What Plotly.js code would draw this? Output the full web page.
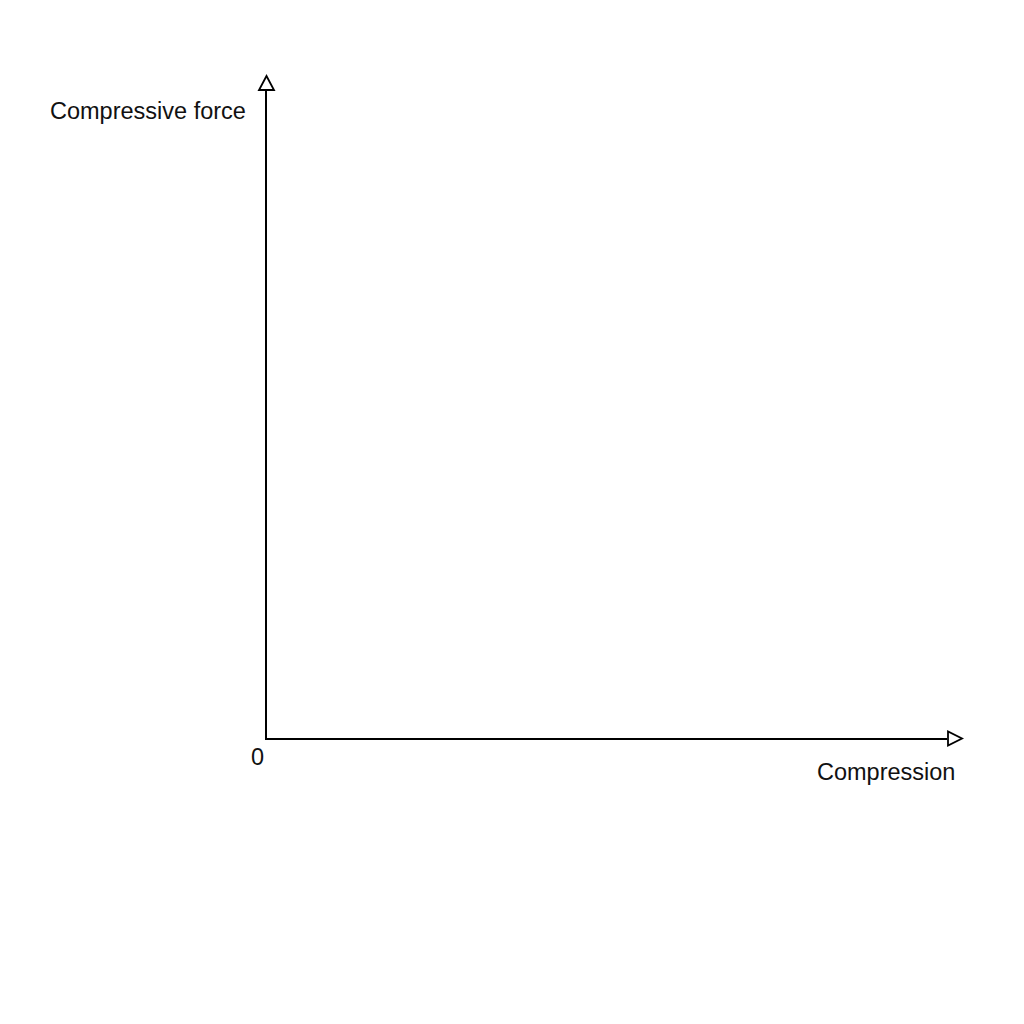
<!DOCTYPE html>
<html>
<head>
<meta charset="utf-8">
<script src="https://cdn.plot.ly/plotly-3.0.1.min.js"></script>
<style>
    html, body { margin: 0; padding: 0; background: #ffffff; }
    #plotDiv { width: 1024px; height: 1024px; }
</style>
</head>
<body>
<div id="plotDiv"></div>
<script>
// axis data: a blank force / compression diagram
const xRange = [0, 1]
const yRange = [0, 1]
const originLabel = "0"
const xLabel = "Compression"
const yLabel = "Compressive force"

const textFont = { family: "Liberation Sans, Arial, sans-serif", size: 23.5, color: "#111111" }

// empty trace so the axes exist
let plotData = [{
    type: "scatter",
    x: [],
    y: [],
    mode: "lines",
    hoverinfo: "skip",
    showlegend: false
}]

let plotLayout = {
    width: 1024,
    height: 1024,
    margin: { l: 267, r: 77, t: 91, b: 286 },
    paper_bgcolor: "#ffffff",
    plot_bgcolor: "#ffffff",
    showlegend: false,
    xaxis: {
        range: xRange,
        showline: true,
        linecolor: "#000000",
        linewidth: 2,
        showgrid: false,
        zeroline: false,
        showticklabels: false,
        ticks: "",
        fixedrange: true
    },
    yaxis: {
        range: yRange,
        showline: true,
        linecolor: "#000000",
        linewidth: 2,
        showgrid: false,
        zeroline: false,
        showticklabels: false,
        ticks: "",
        fixedrange: true
    },
    shapes: [
        {
            // hollow arrowhead at end of x axis (paper refs are not clipped)
            type: "path",
            xref: "paper", yref: "paper",
            xsizemode: "pixel", ysizemode: "pixel",
            xanchor: 1, yanchor: 0,
            path: "M1,6.5 L1,-7.5 L15,-0.5 Z",
            line: { color: "#000000", width: 1.8 },
            fillcolor: "#ffffff"
        },
        {
            // hollow arrowhead at top of y axis
            type: "path",
            xref: "paper", yref: "paper",
            xsizemode: "pixel", ysizemode: "pixel",
            xanchor: 0, yanchor: 1,
            path: "M-8,1 L7,1 L-0.5,15 Z",
            line: { color: "#000000", width: 1.8 },
            fillcolor: "#ffffff"
        }
    ],
    annotations: [
        {
            text: originLabel,
            xref: "x", yref: "y",
            x: xRange[0], y: yRange[0],
            xanchor: "center", yanchor: "middle",
            xshift: -10, yshift: -19,
            showarrow: false,
            font: textFont
        },
        {
            text: xLabel,
            xref: "paper", yref: "y",
            x: 1, y: yRange[0],
            xanchor: "right", yanchor: "middle",
            xshift: 10, yshift: -34,
            showarrow: false,
            font: textFont
        },
        {
            text: yLabel,
            xref: "x", yref: "paper",
            x: xRange[0], y: 1,
            xanchor: "right", yanchor: "middle",
            xshift: -19, yshift: -20,
            showarrow: false,
            font: textFont
        }
    ]
}

let plotConfig = { displayModeBar: false, staticPlot: true }

Plotly.newPlot("plotDiv", plotData, plotLayout, plotConfig)
</script>
</body>
</html>
